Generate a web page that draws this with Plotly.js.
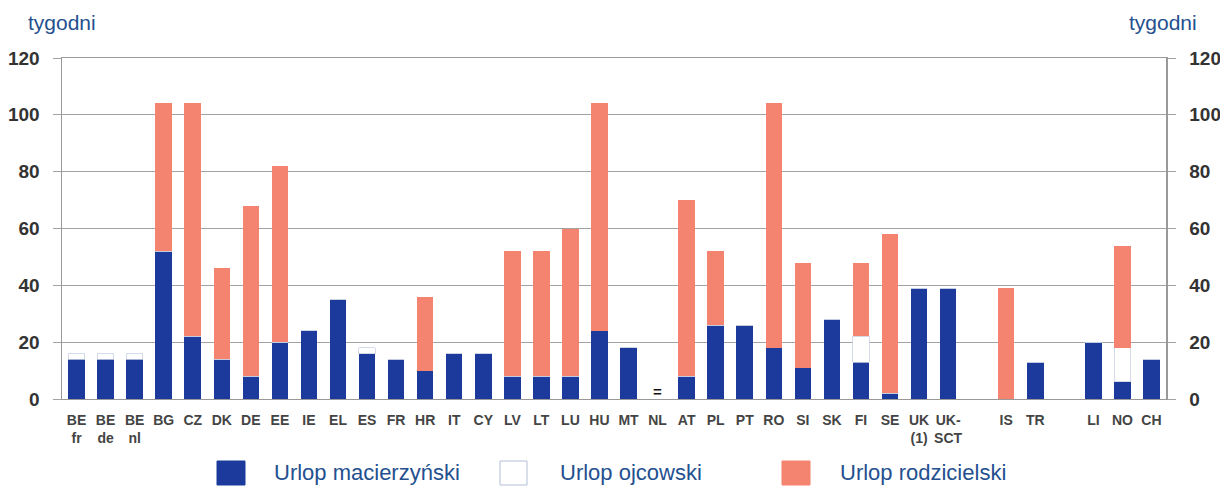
<!DOCTYPE html>
<html><head><meta charset="utf-8">
<script src="https://cdn.plot.ly/plotly-3.0.1.min.js"></script>
<style>html,body{margin:0;padding:0;background:#fff}#chart{width:1220px;height:486px}</style>
</head><body><div id="chart"></div>
<script>
// Category groups (an empty slot separates the groups on the axis)
const groupEU = ['BE<br>fr','BE<br>de','BE<br>nl','BG','CZ','DK','DE','EE','IE','EL','ES','FR','HR','IT','CY','LV','LT','LU','HU','MT','NL','AT','PL','PT','RO','SI','SK','FI','SE','UK<br>(1)','UK-<br>SCT'];
const groupB = ['IS','TR'];
const groupC = ['LI','NO','CH'];
const categories = groupEU.concat(groupB, groupC);

// Weeks of leave per category (same order as categories)
const maternity = [14,14,14,52,22,14,8,20,24,35,16,14,10,16,16,8,8,8,24,18,null,8,26,26,18,11,28,13,2,39,39, 0,13, 20,6,14];
const paternity = [2,2,2,0,0,0,0,0,0,0,2,0,0,0,0,0,0,0,0,0,null,0,0,0,0,0,0,9,0,0,0, 0,0, 0,12,0];
const parental  = [0,0,0,52,82,32,60,62,0,0,0,0,26,0,0,44,44,52,80,0,null,62,26,0,86,37,0,26,56,0,0, 39,0, 0,36,0];
const noDataMark = {category:'NL', text:'='};

const yTicks = [0,20,40,60,80,100,120];
const unitLabel = 'tygodni';
const seriesNames = ['Urlop macierzyński','Urlop ojcowski','Urlop rodzicielski'];

// positions with a gap between groups
const xpos = [];
let p = 0;
[groupEU, groupB, groupC].forEach(g => { g.forEach(() => xpos.push(p++)); p++; });
const nSlots = p - 1;

const BLUE = '#1b3a9b', PINK = '#f4846f', WHITE = '#ffffff';
const FONT = 'Liberation Sans, Arial, sans-serif';

const traces = [
  {type:'bar', x:xpos, y:maternity, name:seriesNames[0], marker:{color:BLUE}, yaxis:'y'},
  {type:'bar', x:xpos, y:paternity, name:seriesNames[1], marker:{color:WHITE, line:{color:'#c9d1e2', width:0.8}}, yaxis:'y'},
  {type:'bar', x:xpos, y:parental, name:seriesNames[2], marker:{color:PINK}, yaxis:'y'}
];

const L = 62, R = 1166, T = 58, B = 399;
const W = R - L, H = B - T;
const px = v => (v - L) / W;
const py = v => (B - v) / H;

const shapes = [];
const annotations = [];
const legendItems = [
  {x0:217, x1:245, tx:274, color:BLUE, line:'#1b3a9b'},
  {x0:500, x1:527, tx:560, color:'#ffffff', line:'#b4c0d6'},
  {x0:782, x1:810, tx:840, color:PINK, line:PINK}
];
const BLUE_TEXT = '#24508f';
legendItems.forEach((it, i) => {
  shapes.push({type:'rect', xref:'paper', yref:'paper', x0:px(it.x0), x1:px(it.x1), y0:py(485), y1:py(461),
    fillcolor:it.color, line:{color:it.line, width:1}});
  annotations.push({xref:'paper', yref:'paper', x:px(it.tx - 2), y:py(472), xanchor:'left', yanchor:'middle',
    text:seriesNames[i], showarrow:false, font:{family:FONT, size:22, color:BLUE_TEXT}});
});
annotations.push({xref:'paper', yref:'paper', x:px(26), y:py(22), xanchor:'left', yanchor:'middle',
  text:unitLabel, showarrow:false, font:{family:FONT, size:21, color:BLUE_TEXT}});
annotations.push({xref:'paper', yref:'paper', x:px(1199), y:py(22), xanchor:'right', yanchor:'middle',
  text:unitLabel, showarrow:false, font:{family:FONT, size:21, color:BLUE_TEXT}});
const nlIdx = categories.indexOf(noDataMark.category);
annotations.push({xref:'x', yref:'y', x:xpos[nlIdx], y:2.5, text:'<b>'+noDataMark.text+'</b>', showarrow:false,
  yanchor:'middle', font:{family:FONT, size:15, color:'#111'}});

const tickFontY = {family:FONT, size:19, color:'#333', weight:'bold'};
const layout = {
  width:1220, height:486,
  margin:{l:L, r:1220-R, t:T, b:486-B},
  paper_bgcolor:'#fff', plot_bgcolor:'#fff',
  barmode:'stack', bargap:0.43, showlegend:false, hovermode:false,
  xaxis:{range:[-0.5, nSlots-0.5], tickmode:'array', tickvals:xpos, ticktext:categories,
    tickfont:{family:FONT, size:14, color:'#444', weight:'bold'}, ticks:'', showgrid:false, ticklabelstandoff:8,
    showline:true, linecolor:'#999', linewidth:1, mirror:true, zeroline:false, fixedrange:true},
  yaxis:{range:[0,120], tickmode:'array', tickvals:yTicks, showgrid:true, gridcolor:'#a3a3a3', gridwidth:1,
    showline:true, linecolor:'#999', linewidth:1.5, ticks:'outside', ticklen:8, tickcolor:'#a3a3a3',
    tickfont:tickFontY, ticklabelstandoff:9, zeroline:false, fixedrange:true},
  yaxis2:{range:[0,120], overlaying:'y', side:'right', tickmode:'array', tickvals:yTicks, showgrid:false,
    showline:true, linecolor:'#999', linewidth:1.5, ticks:'outside', ticklen:8, tickcolor:'#a3a3a3',
    tickfont:tickFontY, ticklabelstandoff:10, zeroline:false, fixedrange:true},
  shapes:shapes, annotations:annotations
};
// invisible trace so the right axis is drawn
traces.push({type:'scatter', x:[xpos[0]], y:[0], yaxis:'y2', mode:'markers', marker:{opacity:0}, showlegend:false, hoverinfo:'skip'});
Plotly.newPlot('chart', traces, layout, {staticPlot:true, displayModeBar:false});
</script></body></html>
